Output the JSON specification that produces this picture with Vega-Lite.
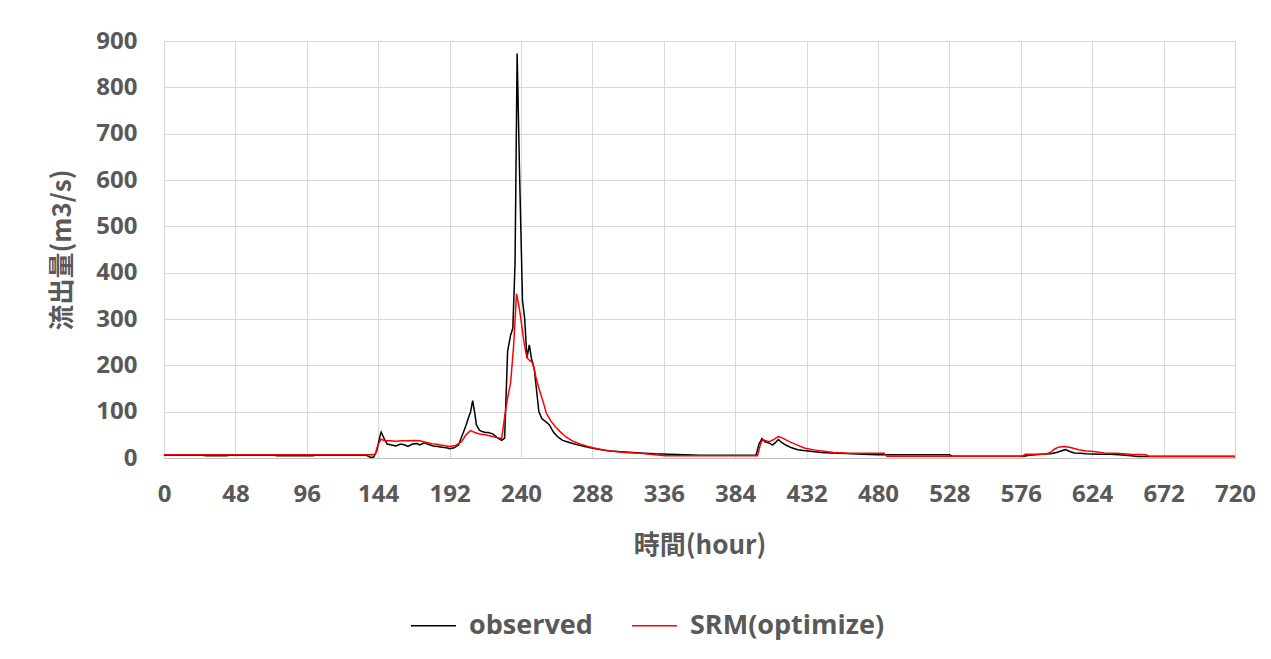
{
  "$schema": "https://vega.github.io/schema/vega-lite/v6.json",
  "width": 1071,
  "height": 417,
  "autosize": {"type": "none"},
  "padding": {"left": 164, "top": 41, "right": 36, "bottom": 201},
  "background": "white",
  "config": {
    "view": {"stroke": "#d9d9d9", "strokeWidth": 1},
    "font": "Open Sans",
    "axis": {
      "labelFont": "Open Sans",
      "labelFontWeight": "bold",
      "labelFontSize": 24,
      "labelColor": "#595959",
      "titleFont": "Noto Sans CJK TC",
      "titleFontWeight": "bold",
      "titleFontSize": 26,
      "titleColor": "#595959",
      "gridColor": "#d9d9d9",
      "gridWidth": 1,
      "tickSize": 0,
      "domainColor": "#bfbfbf"
    },
    "legend": {
      "labelFont": "Open Sans",
      "labelFontWeight": "bold",
      "labelFontSize": 27,
      "labelColor": "#595959",
      "labelLimit": 400
    }
  },
  "datasets": {
    "flow": [
      {"hour": 0, "series": "observed", "value": 6},
      {"hour": 26, "series": "observed", "value": 6},
      {"hour": 28, "series": "observed", "value": 5},
      {"hour": 42, "series": "observed", "value": 5},
      {"hour": 44, "series": "observed", "value": 6},
      {"hour": 74, "series": "observed", "value": 6},
      {"hour": 76, "series": "observed", "value": 5},
      {"hour": 100, "series": "observed", "value": 5},
      {"hour": 102, "series": "observed", "value": 6},
      {"hour": 136, "series": "observed", "value": 6},
      {"hour": 139, "series": "observed", "value": 1},
      {"hour": 141, "series": "observed", "value": 2},
      {"hour": 143, "series": "observed", "value": 15},
      {"hour": 145, "series": "observed", "value": 45},
      {"hour": 146, "series": "observed", "value": 56},
      {"hour": 148, "series": "observed", "value": 42},
      {"hour": 150, "series": "observed", "value": 30},
      {"hour": 153, "series": "observed", "value": 28},
      {"hour": 156, "series": "observed", "value": 26},
      {"hour": 159, "series": "observed", "value": 30},
      {"hour": 162, "series": "observed", "value": 28},
      {"hour": 164, "series": "observed", "value": 25},
      {"hour": 167, "series": "observed", "value": 30},
      {"hour": 170, "series": "observed", "value": 31},
      {"hour": 172, "series": "observed", "value": 28},
      {"hour": 175, "series": "observed", "value": 33},
      {"hour": 178, "series": "observed", "value": 29},
      {"hour": 181, "series": "observed", "value": 26},
      {"hour": 184, "series": "observed", "value": 25},
      {"hour": 187, "series": "observed", "value": 23},
      {"hour": 190, "series": "observed", "value": 22},
      {"hour": 192, "series": "observed", "value": 20},
      {"hour": 195, "series": "observed", "value": 22},
      {"hour": 198, "series": "observed", "value": 28},
      {"hour": 200, "series": "observed", "value": 45},
      {"hour": 203, "series": "observed", "value": 70},
      {"hour": 205, "series": "observed", "value": 90},
      {"hour": 206, "series": "observed", "value": 98},
      {"hour": 207.5, "series": "observed", "value": 124},
      {"hour": 209, "series": "observed", "value": 95},
      {"hour": 210, "series": "observed", "value": 72},
      {"hour": 212, "series": "observed", "value": 60},
      {"hour": 214, "series": "observed", "value": 57},
      {"hour": 216, "series": "observed", "value": 55},
      {"hour": 218, "series": "observed", "value": 55},
      {"hour": 221, "series": "observed", "value": 52},
      {"hour": 224, "series": "observed", "value": 44},
      {"hour": 227, "series": "observed", "value": 38},
      {"hour": 229, "series": "observed", "value": 43},
      {"hour": 231, "series": "observed", "value": 230},
      {"hour": 233, "series": "observed", "value": 265},
      {"hour": 234.5, "series": "observed", "value": 280},
      {"hour": 236, "series": "observed", "value": 420},
      {"hour": 237.4, "series": "observed", "value": 873},
      {"hour": 239, "series": "observed", "value": 620},
      {"hour": 241, "series": "observed", "value": 340},
      {"hour": 242.5, "series": "observed", "value": 300},
      {"hour": 244, "series": "observed", "value": 216},
      {"hour": 245.6, "series": "observed", "value": 244},
      {"hour": 247, "series": "observed", "value": 215},
      {"hour": 249, "series": "observed", "value": 190},
      {"hour": 251, "series": "observed", "value": 130},
      {"hour": 252, "series": "observed", "value": 100},
      {"hour": 254, "series": "observed", "value": 85},
      {"hour": 256, "series": "observed", "value": 80},
      {"hour": 259, "series": "observed", "value": 72},
      {"hour": 262, "series": "observed", "value": 55},
      {"hour": 265, "series": "observed", "value": 45},
      {"hour": 268, "series": "observed", "value": 38},
      {"hour": 272, "series": "observed", "value": 34},
      {"hour": 276, "series": "observed", "value": 30},
      {"hour": 280, "series": "observed", "value": 27},
      {"hour": 285, "series": "observed", "value": 23},
      {"hour": 290, "series": "observed", "value": 20},
      {"hour": 295, "series": "observed", "value": 17},
      {"hour": 300, "series": "observed", "value": 15},
      {"hour": 310, "series": "observed", "value": 13},
      {"hour": 320, "series": "observed", "value": 11},
      {"hour": 330, "series": "observed", "value": 9},
      {"hour": 340, "series": "observed", "value": 8},
      {"hour": 350, "series": "observed", "value": 7},
      {"hour": 360, "series": "observed", "value": 6},
      {"hour": 380, "series": "observed", "value": 6},
      {"hour": 398, "series": "observed", "value": 6},
      {"hour": 400, "series": "observed", "value": 30},
      {"hour": 402, "series": "observed", "value": 42},
      {"hour": 404, "series": "observed", "value": 35},
      {"hour": 407, "series": "observed", "value": 32},
      {"hour": 409, "series": "observed", "value": 28},
      {"hour": 411, "series": "observed", "value": 33},
      {"hour": 413, "series": "observed", "value": 40},
      {"hour": 415, "series": "observed", "value": 34},
      {"hour": 418, "series": "observed", "value": 28},
      {"hour": 422, "series": "observed", "value": 22},
      {"hour": 426, "series": "observed", "value": 18},
      {"hour": 430, "series": "observed", "value": 16},
      {"hour": 436, "series": "observed", "value": 14},
      {"hour": 442, "series": "observed", "value": 12},
      {"hour": 448, "series": "observed", "value": 11},
      {"hour": 455, "series": "observed", "value": 10},
      {"hour": 462, "series": "observed", "value": 9},
      {"hour": 470, "series": "observed", "value": 8},
      {"hour": 480, "series": "observed", "value": 7},
      {"hour": 528, "series": "observed", "value": 7},
      {"hour": 530, "series": "observed", "value": 4},
      {"hour": 578, "series": "observed", "value": 4},
      {"hour": 582, "series": "observed", "value": 6},
      {"hour": 590, "series": "observed", "value": 8},
      {"hour": 596, "series": "observed", "value": 9},
      {"hour": 600, "series": "observed", "value": 12},
      {"hour": 603, "series": "observed", "value": 15},
      {"hour": 606, "series": "observed", "value": 18},
      {"hour": 609, "series": "observed", "value": 14},
      {"hour": 612, "series": "observed", "value": 11},
      {"hour": 616, "series": "observed", "value": 10},
      {"hour": 620, "series": "observed", "value": 9},
      {"hour": 628, "series": "observed", "value": 8},
      {"hour": 636, "series": "observed", "value": 8},
      {"hour": 642, "series": "observed", "value": 7},
      {"hour": 650, "series": "observed", "value": 5},
      {"hour": 655, "series": "observed", "value": 3},
      {"hour": 720, "series": "observed", "value": 3},
      {"hour": 0, "series": "SRM(optimize)", "value": 7},
      {"hour": 140, "series": "SRM(optimize)", "value": 7},
      {"hour": 142, "series": "SRM(optimize)", "value": 8},
      {"hour": 144, "series": "SRM(optimize)", "value": 30},
      {"hour": 146, "series": "SRM(optimize)", "value": 41},
      {"hour": 148, "series": "SRM(optimize)", "value": 38},
      {"hour": 152, "series": "SRM(optimize)", "value": 37},
      {"hour": 156, "series": "SRM(optimize)", "value": 36},
      {"hour": 160, "series": "SRM(optimize)", "value": 37},
      {"hour": 164, "series": "SRM(optimize)", "value": 37},
      {"hour": 168, "series": "SRM(optimize)", "value": 38},
      {"hour": 172, "series": "SRM(optimize)", "value": 37},
      {"hour": 176, "series": "SRM(optimize)", "value": 34},
      {"hour": 180, "series": "SRM(optimize)", "value": 31},
      {"hour": 184, "series": "SRM(optimize)", "value": 29},
      {"hour": 188, "series": "SRM(optimize)", "value": 27},
      {"hour": 192, "series": "SRM(optimize)", "value": 25},
      {"hour": 196, "series": "SRM(optimize)", "value": 27},
      {"hour": 200, "series": "SRM(optimize)", "value": 35},
      {"hour": 203, "series": "SRM(optimize)", "value": 50},
      {"hour": 206, "series": "SRM(optimize)", "value": 59},
      {"hour": 209, "series": "SRM(optimize)", "value": 55},
      {"hour": 212, "series": "SRM(optimize)", "value": 52},
      {"hour": 216, "series": "SRM(optimize)", "value": 50},
      {"hour": 220, "series": "SRM(optimize)", "value": 47},
      {"hour": 224, "series": "SRM(optimize)", "value": 44},
      {"hour": 227, "series": "SRM(optimize)", "value": 42},
      {"hour": 229, "series": "SRM(optimize)", "value": 89},
      {"hour": 231, "series": "SRM(optimize)", "value": 130},
      {"hour": 233, "series": "SRM(optimize)", "value": 162},
      {"hour": 235, "series": "SRM(optimize)", "value": 240},
      {"hour": 237, "series": "SRM(optimize)", "value": 355},
      {"hour": 239, "series": "SRM(optimize)", "value": 320},
      {"hour": 240, "series": "SRM(optimize)", "value": 298},
      {"hour": 242, "series": "SRM(optimize)", "value": 250},
      {"hour": 244, "series": "SRM(optimize)", "value": 216},
      {"hour": 246, "series": "SRM(optimize)", "value": 210},
      {"hour": 248, "series": "SRM(optimize)", "value": 205},
      {"hour": 250, "series": "SRM(optimize)", "value": 175},
      {"hour": 252, "series": "SRM(optimize)", "value": 151},
      {"hour": 255, "series": "SRM(optimize)", "value": 120},
      {"hour": 257, "series": "SRM(optimize)", "value": 97},
      {"hour": 260, "series": "SRM(optimize)", "value": 80},
      {"hour": 263, "series": "SRM(optimize)", "value": 68},
      {"hour": 266, "series": "SRM(optimize)", "value": 58},
      {"hour": 270, "series": "SRM(optimize)", "value": 46},
      {"hour": 275, "series": "SRM(optimize)", "value": 36},
      {"hour": 280, "series": "SRM(optimize)", "value": 30},
      {"hour": 285, "series": "SRM(optimize)", "value": 25},
      {"hour": 290, "series": "SRM(optimize)", "value": 21},
      {"hour": 295, "series": "SRM(optimize)", "value": 18},
      {"hour": 300, "series": "SRM(optimize)", "value": 15},
      {"hour": 310, "series": "SRM(optimize)", "value": 12},
      {"hour": 320, "series": "SRM(optimize)", "value": 10},
      {"hour": 330, "series": "SRM(optimize)", "value": 7},
      {"hour": 337, "series": "SRM(optimize)", "value": 5},
      {"hour": 399, "series": "SRM(optimize)", "value": 5},
      {"hour": 401, "series": "SRM(optimize)", "value": 30},
      {"hour": 402.5, "series": "SRM(optimize)", "value": 40},
      {"hour": 404, "series": "SRM(optimize)", "value": 38},
      {"hour": 407, "series": "SRM(optimize)", "value": 35},
      {"hour": 410, "series": "SRM(optimize)", "value": 40},
      {"hour": 413, "series": "SRM(optimize)", "value": 46},
      {"hour": 416, "series": "SRM(optimize)", "value": 43},
      {"hour": 420, "series": "SRM(optimize)", "value": 36},
      {"hour": 425, "series": "SRM(optimize)", "value": 29},
      {"hour": 431, "series": "SRM(optimize)", "value": 21},
      {"hour": 438, "series": "SRM(optimize)", "value": 17},
      {"hour": 445, "series": "SRM(optimize)", "value": 14},
      {"hour": 450, "series": "SRM(optimize)", "value": 12},
      {"hour": 460, "series": "SRM(optimize)", "value": 10},
      {"hour": 484, "series": "SRM(optimize)", "value": 10},
      {"hour": 486, "series": "SRM(optimize)", "value": 4},
      {"hour": 577, "series": "SRM(optimize)", "value": 4},
      {"hour": 579, "series": "SRM(optimize)", "value": 8},
      {"hour": 592, "series": "SRM(optimize)", "value": 8},
      {"hour": 596, "series": "SRM(optimize)", "value": 12},
      {"hour": 599, "series": "SRM(optimize)", "value": 20},
      {"hour": 602, "series": "SRM(optimize)", "value": 24},
      {"hour": 606, "series": "SRM(optimize)", "value": 25},
      {"hour": 610, "series": "SRM(optimize)", "value": 22},
      {"hour": 615, "series": "SRM(optimize)", "value": 18},
      {"hour": 620, "series": "SRM(optimize)", "value": 15},
      {"hour": 625, "series": "SRM(optimize)", "value": 14},
      {"hour": 632, "series": "SRM(optimize)", "value": 11},
      {"hour": 640, "series": "SRM(optimize)", "value": 10},
      {"hour": 650, "series": "SRM(optimize)", "value": 8},
      {"hour": 660, "series": "SRM(optimize)", "value": 7},
      {"hour": 662, "series": "SRM(optimize)", "value": 4},
      {"hour": 720, "series": "SRM(optimize)", "value": 4}
    ]
  },
  "data": {"name": "flow"},
  "encoding": {
    "x": {
      "field": "hour",
      "type": "quantitative",
      "scale": {"domain": [0, 720], "nice": false, "zero": true},
      "axis": {
        "values": [0, 48, 96, 144, 192, 240, 288, 336, 384, 432, 480, 528, 576, 624, 672, 720],
        "title": "時間(hour)",
        "labelPadding": 24,
        "titlePadding": 26,
        "labelFlush": false,
        "domain": true
      }
    },
    "y": {
      "field": "value",
      "type": "quantitative",
      "scale": {"domain": [0, 900], "nice": false},
      "axis": {
        "values": [0, 100, 200, 300, 400, 500, 600, 700, 800, 900],
        "title": "流出量(m3/s)",
        "labelPadding": 27,
        "titlePadding": 20,
        "domain": false
      }
    },
    "color": {
      "field": "series",
      "type": "nominal",
      "scale": {"domain": ["observed", "SRM(optimize)"], "range": ["#000000", "#ff0000"]},
      "legend": {
        "title": null,
        "orient": "none",
        "direction": "horizontal",
        "legendX": 246,
        "legendY": 561,
        "symbolType": "stroke",
        "symbolSize": 2025,
        "symbolStrokeWidth": 1.5,
        "labelOffset": 12,
        "columnPadding": 36
      }
    }
  },
  "layer": [
    {
      "transform": [{"filter": "datum.series === 'observed'"}],
      "mark": {"type": "line", "strokeWidth": 1.5, "interpolate": "linear"}
    },
    {
      "transform": [{"filter": "datum.series === 'SRM(optimize)'"}],
      "mark": {"type": "line", "strokeWidth": 1.5, "interpolate": "linear"}
    }
  ]
}
